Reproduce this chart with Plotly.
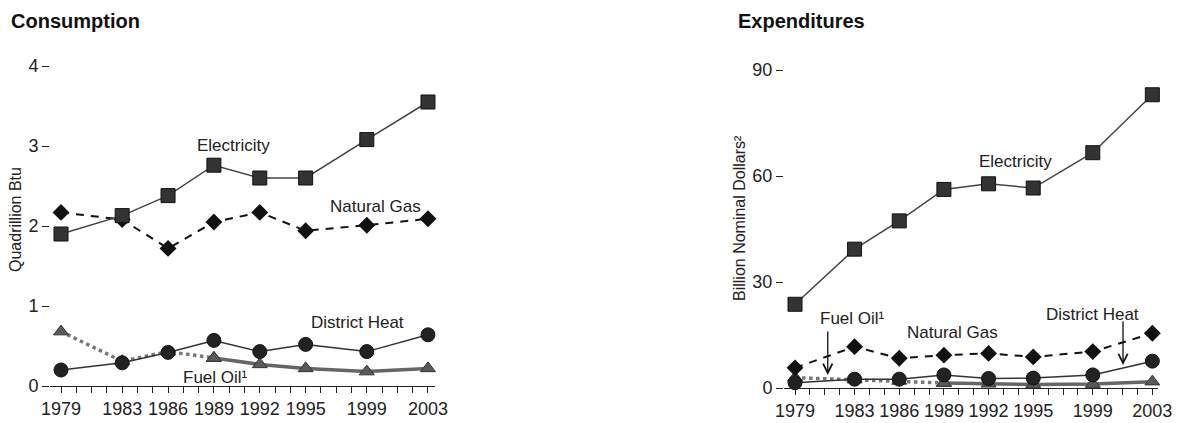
import plotly.graph_objects as go

years = [1979, 1983, 1986, 1989, 1992, 1995, 1999, 2003]
year_labels = ["1979", "1983", "1986", "1989", "1992", "1995", "1999", "2003"]

# Consumption (quadrillion Btu)
cons_electricity = [1.90, 2.13, 2.38, 2.76, 2.60, 2.60, 3.08, 3.55]
cons_natural_gas = [2.17, 2.08, 1.72, 2.05, 2.17, 1.94, 2.01, 2.09]
cons_district_heat = [0.20, 0.29, 0.42, 0.57, 0.43, 0.52, 0.43, 0.64]
cons_fuel_oil = [0.68, 0.31, 0.43, 0.35, 0.27, 0.22, 0.18, 0.22]

# Expenditures (billion nominal dollars)
exp_electricity = [23.7, 39.3, 47.3, 56.2, 57.8, 56.6, 66.6, 83.0]
exp_natural_gas = [5.7, 11.7, 8.4, 9.3, 9.8, 8.8, 10.3, 15.5]
exp_district_heat = [1.5, 2.5, 2.5, 3.7, 2.7, 2.8, 3.7, 7.6]
exp_fuel_oil = [2.9, 2.4, 2.0, 1.4, 1.2, 1.0, 1.1, 1.8]

cons_ticks = [0, 1, 2, 3, 4]
exp_ticks = [0, 30, 60, 90]

FONT = "Liberation Sans, Arial, sans-serif"
OFF = 8  # page body margin
W, H = 1180 - OFF, 423 - OFF


def px(x):
    return (x - OFF) / W


def py(y):
    return 1 - (y - OFF) / H


fig = go.Figure()


def add_series(xa, ya, elec, gas, heat, oil):
    # fuel oil: dotted early segment, solid later segment
    fig.add_trace(go.Scatter(x=years[:4], y=oil[:4], mode="lines+markers", xaxis=xa, yaxis=ya,
                             line=dict(color="#777777", width=3.5, dash="dot"),
                             marker=dict(symbol="triangle-up", size=13, color="#5a5a5a",
                                         line=dict(color="#333333", width=1)),
                             cliponaxis=False, showlegend=False))
    fig.add_trace(go.Scatter(x=years[3:], y=oil[3:], mode="lines+markers", xaxis=xa, yaxis=ya,
                             line=dict(color="#666666", width=3.5),
                             marker=dict(symbol="triangle-up", size=13, color="#5a5a5a",
                                         line=dict(color="#333333", width=1)),
                             cliponaxis=False, showlegend=False))
    fig.add_trace(go.Scatter(x=years, y=gas, mode="lines+markers", xaxis=xa, yaxis=ya,
                             line=dict(color="#111111", width=2, dash="8px,7px"),
                             marker=dict(symbol="diamond", size=13, color="#111111"),
                             cliponaxis=False, showlegend=False))
    fig.add_trace(go.Scatter(x=years, y=heat, mode="lines+markers", xaxis=xa, yaxis=ya,
                             line=dict(color="#333333", width=1.5),
                             marker=dict(symbol="circle", size=14, color="#222222",
                                         line=dict(color="#111111", width=1)),
                             cliponaxis=False, showlegend=False))
    fig.add_trace(go.Scatter(x=years, y=elec, mode="lines+markers", xaxis=xa, yaxis=ya,
                             line=dict(color="#444444", width=1.5),
                             marker=dict(symbol="square", size=14, color="#333333",
                                         line=dict(color="#111111", width=1)),
                             cliponaxis=False, showlegend=False))


add_series("x", "y", cons_electricity, cons_natural_gas, cons_district_heat, cons_fuel_oil)
add_series("x2", "y2", exp_electricity, exp_natural_gas, exp_district_heat, exp_fuel_oil)

xcommon = dict(tickmode="array", tickvals=years, ticktext=year_labels,
               showline=True, linecolor="#222222", linewidth=1,
               ticks="outside", ticklen=6, tickcolor="#222222", tickwidth=1,
               minor=dict(dtick=1, tick0=1979, ticks="outside", ticklen=6, tickcolor="#222222"),
               showgrid=False, zeroline=False, automargin=False,
               tickfont=dict(family=FONT, size=18, color="#222222"))
ycommon = dict(showline=False, ticks="outside", ticklen=7, tickcolor="#222222", tickwidth=1,
               showgrid=False, zeroline=False, automargin=False,
               tickfont=dict(family=FONT, size=18, color="#222222"))

fig.update_layout(
    width=W, height=H,
    margin=dict(l=0, r=0, t=0, b=0),
    paper_bgcolor="white", plot_bgcolor="white",
    font=dict(family=FONT, color="#222222"),
    xaxis=dict(domain=[px(50), px(435)], range=[1978.28, 2003.46], anchor="y", **xcommon),
    yaxis=dict(domain=[py(386), py(60)], range=[0, 4.075], anchor="x",
               tickvals=cons_ticks, **ycommon),
    xaxis2=dict(domain=[px(784), px(1158)], range=[1978.26, 2003.38], anchor="y2", **xcommon),
    yaxis2=dict(domain=[py(388), py(60)], range=[0, 92.84], anchor="x2",
                tickvals=exp_ticks, **ycommon),
)

lab = dict(family=FONT, size=17, color="#222222")
axt = dict(family=FONT, size=16, color="#222222")
annots = [
    dict(text="<b>Consumption</b>", xref="paper", yref="paper", x=px(9), y=py(8),
         xanchor="left", yanchor="top", showarrow=False, font=dict(family=FONT, size=20, color="#111111")),
    dict(text="<b>Expenditures</b>", xref="paper", yref="paper", x=px(736), y=py(8),
         xanchor="left", yanchor="top", showarrow=False, font=dict(family=FONT, size=20, color="#111111")),
    dict(text="Quadrillion Btu", xref="paper", yref="paper", x=px(15), y=py(220),
         xanchor="center", yanchor="middle", textangle=-90, showarrow=False, font=axt),
    dict(text="Billion Nominal Dollars²", xref="paper", yref="paper", x=px(740), y=py(218),
         xanchor="center", yanchor="middle", textangle=-90, showarrow=False, font=axt),
    dict(text="Electricity", xref="x", yref="y", x=1990.25, y=3.01, showarrow=False, font=lab),
    dict(text="Natural Gas", xref="x", yref="y", x=1999.6, y=2.24, showarrow=False, font=lab),
    dict(text="District Heat", xref="x", yref="y", x=1998.36, y=0.80, showarrow=False, font=lab),
    dict(text="Fuel Oil¹", xref="x", yref="y", x=1989.1, y=0.11, showarrow=False, font=lab),
    dict(text="Electricity", xref="x2", yref="y2", x=1993.84, y=64.0, showarrow=False, font=lab),
    dict(text="Fuel Oil¹", xref="x2", yref="y2", x=1982.83, y=19.8, showarrow=False, font=lab),
    dict(text="Natural Gas", xref="x2", yref="y2", x=1989.6, y=15.85, showarrow=False, font=lab),
    dict(text="District Heat", xref="x2", yref="y2", x=1998.95, y=20.9, showarrow=False, font=lab),
    dict(text="", xref="x2", yref="y2", x=1981.2, y=3.7, ax=0, ay=-45, showarrow=True,
         arrowhead=5, arrowsize=1.4, arrowwidth=1.3, arrowcolor="#111111"),
    dict(text="", xref="x2", yref="y2", x=2001.03, y=6.5, ax=0, ay=-45, showarrow=True,
         arrowhead=5, arrowsize=1.4, arrowwidth=1.3, arrowcolor="#111111"),
]
fig.update_layout(annotations=annots)

fig.write_html("out.html")
